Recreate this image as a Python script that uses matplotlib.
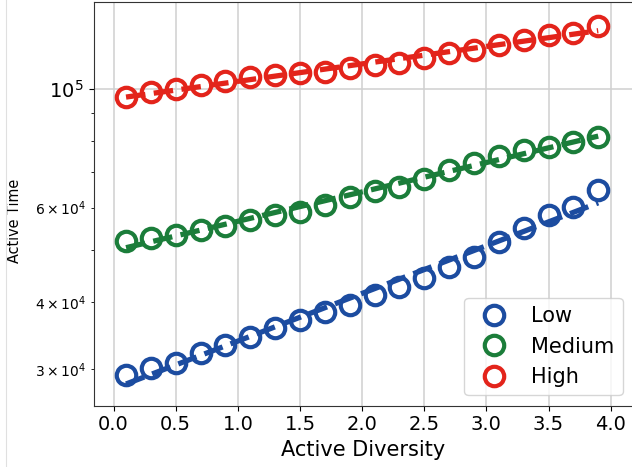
import numpy as np
import matplotlib.pyplot as plt
from matplotlib.lines import Line2D

# binned active diversity (x) and active time per activity group
diversity = [0.1, 0.3, 0.5, 0.7, 0.9, 1.1, 1.3, 1.5, 1.7, 1.9,
             2.1, 2.3, 2.5, 2.7, 2.9, 3.1, 3.3, 3.5, 3.7, 3.9]
low = [29270, 30130, 30870, 32140, 33300, 34510, 35780, 37070, 38410, 39540,
       41270, 42770, 44340, 46600, 48630, 51870, 54930, 58160, 60290, 64740]
medium = [51900, 52650, 53400, 54550, 55560, 56930, 58160, 58990, 60710, 62830,
          64480, 65590, 67880, 70560, 72610, 74920, 76880, 77970, 79660, 81400]
high = [96600, 98460, 99740, 101600, 103200, 105000, 106100, 106800, 107600, 109100,
        110700, 111500, 113900, 116400, 118100, 120600, 123200, 125900, 126800, 130900]

groups = ["Low", "Medium", "High"]
colors = ["#1c4ca0", "#1b7d3a", "#e3241b"]

fig = plt.figure(figsize=(6.32, 4.67), dpi=100)
ax = fig.add_axes([0.1483, 0.1313, 0.8533, 0.8644])

x = np.array(diversity)
for name, vals, c in zip(groups, [low, medium, high], colors):
    y = np.array(vals)
    ax.plot(x, y, 'o', mfc='none', mec=c, ms=14, mew=3, label=name, zorder=3)
    # exponential fit -> straight line on log axis
    k, b = np.polyfit(x, np.log(y), 1)
    ax.plot(x, np.exp(b + k * x), '--', color=c, lw=3.8, zorder=4)

ax.set_yscale('log')
ax.set_xlim(-0.16, 4.18)
ax.set_ylim(25650, 145000)

ax.grid(True, which='major', color='#d0d0d0', lw=1.1)
ax.set_axisbelow(True)
for s in ax.spines.values():
    s.set_color('#333333')
ax.spines['right'].set_visible(False)

ax.tick_params(axis='x', labelsize=14)
ax.tick_params(axis='y', which='major', labelsize=14)
ax.tick_params(axis='y', which='minor', labelsize=10)

ax.set_xlabel("Active Diversity", fontsize=15)
ax.set_ylabel("Active Time", fontsize=11.5, fontstretch='condensed')
ax.yaxis.set_label_coords(-0.133, 0.4575)

ax.legend(loc='lower right', fontsize=15)

# thin border line at the left edge of the source image
fig.add_artist(Line2D([0.0095, 0.0095], [0.0, 1.0], color='#e0e0e0', lw=0.8))

fig.savefig('out.png', dpi=100)
